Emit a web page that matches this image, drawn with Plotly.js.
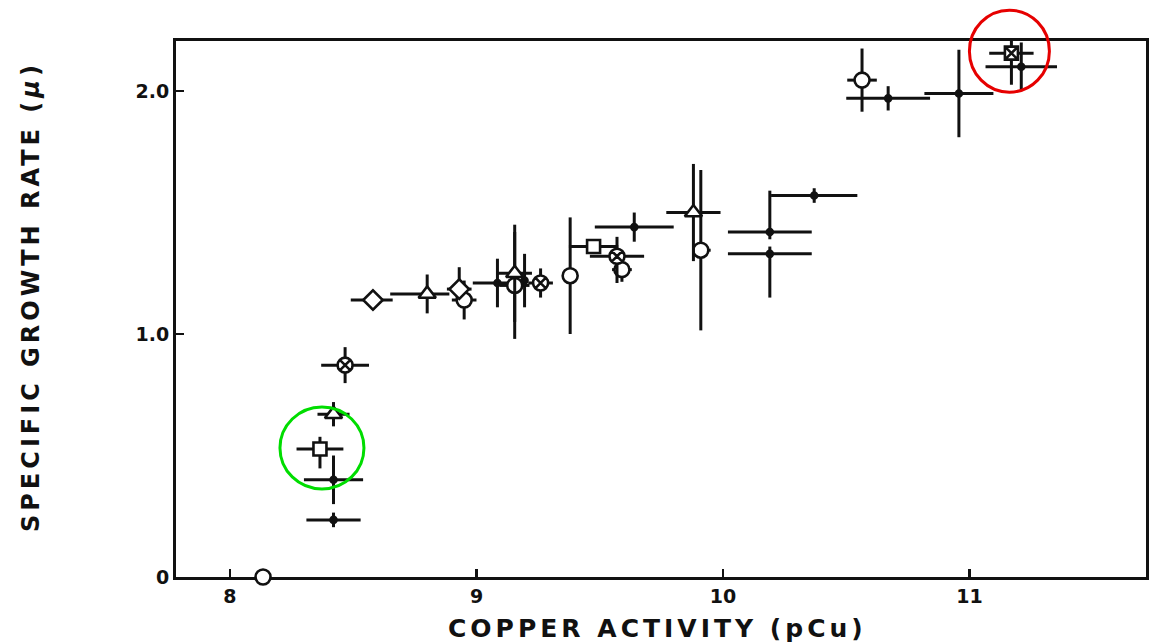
<!DOCTYPE html>
<html>
<head>
<meta charset="utf-8">
<script src="https://cdn.plot.ly/plotly-3.0.1.min.js"></script>
<style>
  html, body { margin: 0; padding: 0; background: #fff; }
  #chart { width: 1154px; height: 643px; }
  .annotation-text { letter-spacing: 4px; }
</style>
</head>
<body>
<div id="chart"></div>
<script>
// Specific growth rate (mu) versus copper activity (pCu), grouped by marker type.
// Error bars: horizontal = pCu uncertainty, vertical = growth-rate uncertainty.

// open circles
const circleX      = [8.134, 8.95, 9.155, 9.38, 9.59, 9.91, 10.564];
const circleY      = [0.0, 1.14, 1.20, 1.24, 1.265, 1.345, 2.045];
const circleXPlus  = [0, 0.05, 0.06, 0.03, 0.04, 0.04, 0.06];
const circleXMinus = [0, 0.05, 0.06, 0.03, 0.04, 0.03, 0.06];
const circleYPlus  = [0, 0.08, 0.22, 0.24, 0.05, 0.33, 0.13];
const circleYMinus = [0, 0.08, 0.22, 0.24, 0.05, 0.33, 0.13];

// open diamonds
const diamondX      = [8.58, 8.93];
const diamondY      = [1.14, 1.185];
const diamondXPlus  = [0.08, 0.05];
const diamondXMinus = [0.09, 0.05];
const diamondYPlus  = [0.04, 0.09];
const diamondYMinus = [0.04, 0.03];

// open triangles
const triangleX      = [8.42, 8.80, 9.155, 9.88];
const triangleY      = [0.67, 1.165, 1.25, 1.50];
const triangleXPlus  = [0.065, 0.09, 0.07, 0.11];
const triangleXMinus = [0.065, 0.15, 0.07, 0.11];
const triangleYPlus  = [0.05, 0.08, 0.20, 0.20];
const triangleYMinus = [0.05, 0.08, 0.20, 0.20];

// open squares
const squareX      = [8.365, 9.475];
const squareY      = [0.527, 1.36];
const squareXPlus  = [0.095, 0.10];
const squareXMinus = [0.095, 0.10];
const squareYPlus  = [0.05, 0.02];
const squareYMinus = [0.08, 0.02];

// crossed circles
const crossCircleX      = [8.467, 9.26, 9.57];
const crossCircleY      = [0.872, 1.21, 1.32];
const crossCircleXPlus  = [0.097, 0.05, 0.11];
const crossCircleXMinus = [0.097, 0.05, 0.11];
const crossCircleYPlus  = [0.074, 0.06, 0.08];
const crossCircleYMinus = [0.074, 0.06, 0.11];

// crossed square
const crossSquareX      = [11.17];
const crossSquareY      = [2.156];
const crossSquareXPlus  = [0.09];
const crossSquareXMinus = [0.09];
const crossSquareYPlus  = [0.13];
const crossSquareYMinus = [0.13];

// small filled dots
const dotX      = [8.42, 8.42, 9.085, 9.195, 9.64, 10.19, 10.19, 10.37, 10.67, 10.957, 11.21];
const dotY      = [0.40, 0.235, 1.21, 1.22, 1.44, 1.42, 1.33, 1.57, 1.97, 1.99, 2.10];
const dotXPlus  = [0.12, 0.11, 0.06, 0, 0.16, 0.17, 0.17, 0.175, 0.17, 0.14, 0.145];
const dotXMinus = [0.12, 0.11, 0.10, 0, 0.16, 0.17, 0.17, 0.175, 0.17, 0.14, 0.145];
const dotYPlus  = [0.10, 0.03, 0.10, 0.11, 0.06, 0.17, 0.03, 0.03, 0.05, 0.18, 0.10];
const dotYMinus = [0.10, 0.03, 0.10, 0.11, 0.06, 0.03, 0.18, 0.03, 0.05, 0.18, 0.10];

// axis ticks and ranges
const xTickVals = [8, 9, 10, 11];
const xTickText = ['8', '9', '10', '11'];
const yTickVals = [0, 1, 2];
const yTickText = ['0', '1.0', '2.0'];
const xRange = [7.781, 11.716];
const yRange = [0, 2.206];

const INK = '#111';

function series(x, y, xp, xm, yp, ym, symbol, size, fill) {
  return {
    type: 'scatter', mode: 'markers', x: x, y: y,
    cliponaxis: false,
    error_x: { type: 'data', symmetric: false, array: xp, arrayminus: xm,
               color: INK, thickness: 3, width: 0 },
    error_y: { type: 'data', symmetric: false, array: yp, arrayminus: ym,
               color: INK, thickness: 3, width: 0 },
    marker: { symbol: symbol, size: size, color: fill,
              line: { color: INK, width: 2.6 } },
    hoverinfo: 'x+y', showlegend: false
  };
}

const traces = [
  series(dotX, dotY, dotXPlus, dotXMinus, dotYPlus, dotYMinus, 'circle', 6, INK),
  series(circleX, circleY, circleXPlus, circleXMinus, circleYPlus, circleYMinus, 'circle', 15, '#fff'),
  series(diamondX, diamondY, diamondXPlus, diamondXMinus, diamondYPlus, diamondYMinus, 'diamond', 15, '#fff'),
  series(triangleX, triangleY, triangleXPlus, triangleXMinus, triangleYPlus, triangleYMinus, 'triangle-up', 15, '#fff'),
  series(squareX, squareY, squareXPlus, squareXMinus, squareYPlus, squareYMinus, 'square', 13, '#fff'),
  series(crossCircleX, crossCircleY, crossCircleXPlus, crossCircleXMinus, crossCircleYPlus, crossCircleYMinus, 'circle-x', 15, '#fff'),
  series(crossSquareX, crossSquareY, crossSquareXPlus, crossSquareXMinus, crossSquareYPlus, crossSquareYMinus, 'square-x', 13, '#fff')
];

const tickFont = { family: 'DejaVu Sans', size: 19, color: INK, weight: 'bold' };
const titleFont = { family: 'DejaVu Sans', size: 25, color: INK, weight: 'bold' };

// highlight rings around chosen points; sized in pixels, anchored on the point.
// The vertical anchor uses the y-axis domain fraction so a ring may extend past the frame.
function ring(px, py, dx, dy, rx, ry, color) {
  const yFrac = (py - yRange[0]) / (yRange[1] - yRange[0]);
  return {
    type: 'circle', xref: 'x', yref: 'y domain', layer: 'above',
    xsizemode: 'pixel', ysizemode: 'pixel', xanchor: px, yanchor: yFrac,
    x0: dx - rx, x1: dx + rx, y0: dy - ry, y1: dy + ry,
    line: { color: color, width: 3 }, fillcolor: 'rgba(0,0,0,0)'
  };
}

const layout = {
  width: 1154, height: 643,
  margin: { l: 176, r: 8, t: 41, b: 66, pad: 0 },
  paper_bgcolor: '#fff', plot_bgcolor: '#fff',
  xaxis: {
    range: xRange, tickvals: xTickVals, ticktext: xTickText,
    ticks: 'inside', ticklen: 8, tickwidth: 2.5, tickcolor: INK,
    showline: true, mirror: true, linecolor: INK, linewidth: 3,
    showgrid: false, zeroline: false, layer: 'below traces',
    tickfont: tickFont, automargin: false
  },
  yaxis: {
    range: yRange, tickvals: yTickVals, ticktext: yTickText,
    ticks: 'inside', ticklen: 8, tickwidth: 2.5, tickcolor: INK,
    showline: true, mirror: true, linecolor: INK, linewidth: 3,
    showgrid: false, zeroline: false, layer: 'below traces',
    tickfont: tickFont, automargin: false
  },
  annotations: [
    { text: 'COPPER ACTIVITY (pCu)', xref: 'paper', yref: 'paper',
      x: 0.5, y: 0, xanchor: 'center', yanchor: 'middle',
      xshift: -4, yshift: -51, showarrow: false, font: titleFont },
    { text: 'SPECIFIC GROWTH RATE (<i>μ</i>)', xref: 'paper', yref: 'paper',
      x: 0, y: 0.5, xanchor: 'center', yanchor: 'middle', textangle: -90,
      xshift: -145, yshift: 12, showarrow: false,
      font: Object.assign({}, titleFont, { size: 24 }) }
  ],
  shapes: [
    ring(squareX[0], squareY[0], 2, 1, 42, 41, '#00dd00'),
    ring(crossSquareX[0], crossSquareY[0], -2, 2, 40, 41, '#e60000')
  ]
};

Plotly.newPlot('chart', traces, layout, { staticPlot: true, displayModeBar: false });
</script>
</body>
</html>
